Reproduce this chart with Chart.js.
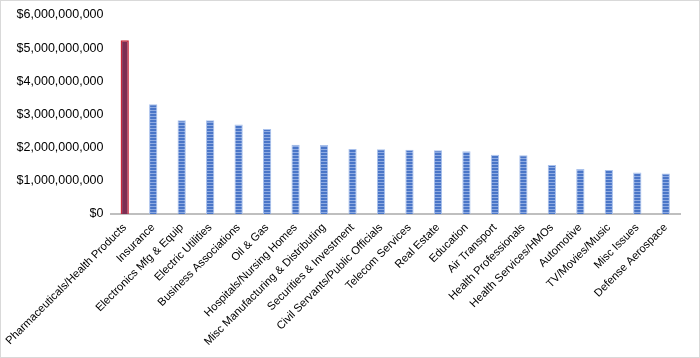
<!DOCTYPE html>
<html>
<head>
<meta charset="utf-8">
<script src="https://cdn.jsdelivr.net/npm/chart.js@4/dist/chart.umd.min.js"></script>
<style>
html,body{margin:0;padding:0;background:#fff;}
#wrap{width:700px;height:358px;}
</style>
</head>
<body>
<div id="wrap"><canvas id="c" width="700" height="358"></canvas></div>
<script>
const categories = [
  "Pharmaceuticals/Health Products","Insurance","Electronics Mfg & Equip","Electric Utilities",
  "Business Associations","Oil & Gas","Hospitals/Nursing Homes","Misc Manufacturing & Distributing",
  "Securities & Investment","Civil Servants/Public Officials","Telecom Services","Real Estate",
  "Education","Air Transport","Health Professionals","Health Services/HMOs","Automotive",
  "TV/Movies/Music","Misc Issues","Defense Aerospace"
];
const spending = [
  5240000000,3310000000,2830000000,2830000000,2700000000,2560000000,2090000000,2080000000,
  1960000000,1950000000,1940000000,1920000000,1890000000,1790000000,1770000000,1480000000,
  1360000000,1330000000,1250000000,1220000000
];
const yTicks = [0,1000000000,2000000000,3000000000,4000000000,5000000000,6000000000];

// striped fill pattern for the blue bars
const pc = document.createElement('canvas');
pc.width = 4; pc.height = 3;
const px = pc.getContext('2d');
px.fillStyle = '#4a76c8'; px.fillRect(0,0,4,3);
px.fillStyle = '#8fabe2'; px.fillRect(0,2,4,1);
const stripe = document.getElementById('c').getContext('2d').createPattern(pc,'repeat');

const bg = categories.map((c,i)=> i===0 ? '#7d2d52' : stripe);
const bd = categories.map((c,i)=> i===0 ? '#c8283a' : '#a9c1ec');
const bw = categories.map((c,i)=> i===0 ? 1.5 : 1);

const frame = {
  id:'frame',
  afterDraw(chart){
    const ctx = chart.ctx;
    ctx.save();
    ctx.strokeStyle = '#d9d9d9';
    ctx.lineWidth = 1;
    ctx.strokeRect(0.5,0.5,699,357);
    ctx.restore();
  }
};

const yFont = {family:"'Liberation Sans', Arial, sans-serif", size:12.5};
const xFont = {family:"'Liberation Sans', Arial, sans-serif", size:11.2};

new Chart(document.getElementById('c'), {
  type:'bar',
  data:{
    labels:categories,
    datasets:[{
      data:spending,
      backgroundColor:bg,
      borderColor:bd,
      borderWidth:bw,
      barPercentage:0.29,
      categoryPercentage:1.0
    }]
  },
  options:{
    responsive:false,
    animation:false,
    layout:{padding:{top:15,right:20,bottom:0,left:0}},
    plugins:{legend:{display:false},tooltip:{enabled:false}},
    scales:{
      x:{
        grid:{display:false,drawTicks:false},
        border:{display:true,color:'#bfbfbf',width:2},
        ticks:{color:'#000',font:xFont,maxRotation:45,minRotation:45,autoSkip:false,padding:7},
        afterFit(s){ s.height = 144; s.paddingLeft = 0; s.paddingRight = 0; }
      },
      y:{
        min:0,max:6000000000,
        afterBuildTicks(s){ s.ticks = yTicks.map(v=>({value:v})); },
        grid:{display:false,drawTicks:false},
        border:{display:false},
        ticks:{color:'#000',font:yFont,padding:7,
          callback:(v)=>'$'+Number(v).toLocaleString('en-US')},
        afterFit(s){ s.width = 110.5; s.paddingTop = 0; s.paddingBottom = 0; }
      }
    }
  },
  plugins:[frame]
});
</script>
</body>
</html>
